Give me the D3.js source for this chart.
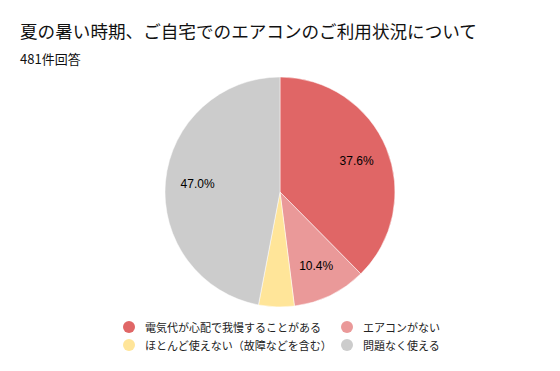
<!DOCTYPE html>
<html>
<head>
<meta charset="utf-8">
<script src="https://cdn.jsdelivr.net/npm/d3@7"></script>
<style>
  body { margin: 0; background: #fff; }
  svg { font-family: 'Noto Sans CJK JP', 'Noto Sans', sans-serif; }
</style>
</head>
<body>
<div id="chart"></div>
<script>
const title = '夏の暑い時期、ご自宅でのエアコンのご利用状況について'
const subtitle = '481件回答'
const categories = ['電気代が心配で我慢することがある', 'エアコンがない', 'ほとんど使えない（故障などを含む）', '問題なく使える']
const values = [37.6, 10.4, 5.0, 47.0]
const colors = ['#e06666', '#ea9999', '#ffe599', '#cccccc']

const width = 560
const height = 371
const cx = 280
const cy = 192
const radius = 115

const svg = d3.select('#chart').append('svg')
    .attr('width', width)
    .attr('height', height)

svg.append('text')
    .attr('x', 20)
    .attr('y', 38)
    .attr('font-size', 17.6)
    .attr('fill', '#111')
    .text(title)

svg.append('text')
    .attr('x', 20)
    .attr('y', 64)
    .attr('font-size', 13)
    .attr('fill', '#111')
    .text(subtitle)

const pie = d3.pie().sort(null).value(d => d)
const arc = d3.arc().innerRadius(0).outerRadius(radius)
const labelArc = d3.arc().innerRadius(radius * 0.72).outerRadius(radius * 0.72)

const g = svg.append('g').attr('transform', `translate(${cx},${cy})`)
const slices = pie(values)

g.selectAll('path')
    .data(slices)
    .enter()
    .append('path')
    .attr('d', arc)
    .attr('fill', (d, i) => colors[i])
    .attr('stroke', '#fff')
    .attr('stroke-width', 0.5)

g.selectAll('text')
    .data(slices.filter(d => d.data >= 10))
    .enter()
    .append('text')
    .attr('transform', d => `translate(${labelArc.centroid(d)})`)
    .attr('text-anchor', 'middle')
    .attr('dominant-baseline', 'central')
    .attr('font-size', 12)
    .attr('font-family', 'Arial, Liberation Sans, sans-serif')
    .attr('fill', '#000')
    .text(d => d.data.toFixed(1) + '%')

// legend, 2 columns filled row by row
const colX = [129, 347]
const rowY = [327, 345]
const legend = svg.append('g')
    .selectAll('g')
    .data(categories)
    .enter()
    .append('g')
    .attr('transform', (d, i) => `translate(${colX[i % 2]},${rowY[Math.floor(i / 2)]})`)

legend.append('circle')
    .attr('r', 6)
    .attr('fill', (d, i) => colors[i])

legend.append('text')
    .attr('x', 16)
    .attr('dominant-baseline', 'central')
    .attr('font-size', 11)
    .attr('fill', '#222')
    .text(d => d)
</script>
</body>
</html>
